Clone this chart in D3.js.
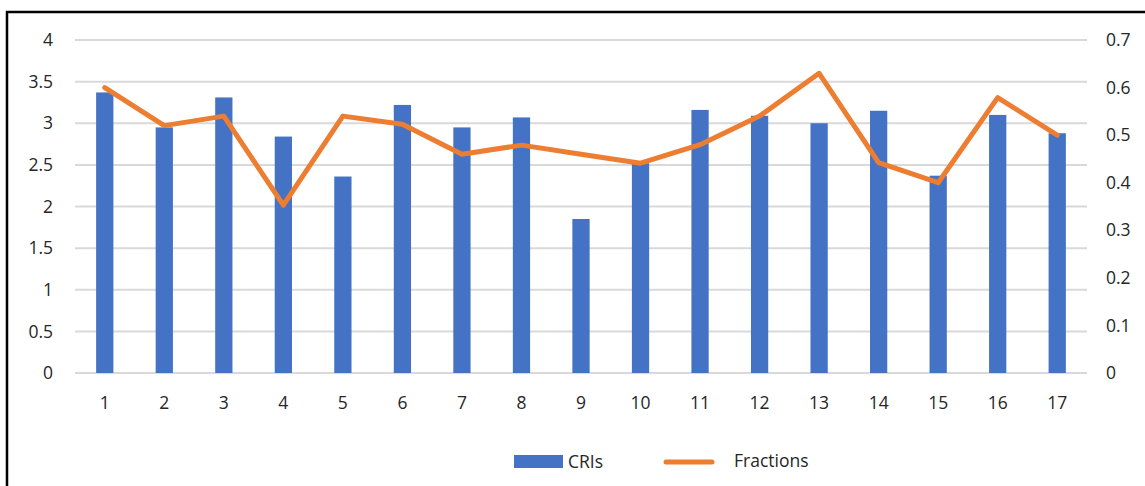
<!DOCTYPE html>
<html><head><meta charset="utf-8">
<script src="https://cdn.jsdelivr.net/npm/d3@7"></script>
<style>body{margin:0;background:#fff;} svg{display:block;} text{font-family:"Open Sans",sans-serif;fill:#262626;}</style>
</head><body><svg id="c" width="1145" height="486"></svg>
<script>
const categories = ["1","2","3","4","5","6","7","8","9","10","11","12","13","14","15","16","17"];
const cris = [3.37,2.95,3.31,2.84,2.36,3.22,2.95,3.07,1.85,2.52,3.16,3.09,3.00,3.15,2.37,3.10,2.88];
const fractions = [0.60,0.52,0.54,0.353,0.54,0.523,0.46,0.479,0.46,0.441,0.48,0.54,0.63,0.442,0.40,0.579,0.50];
const leftTicks = [0,0.5,1,1.5,2,2.5,3,3.5,4];
const rightTicks = [0,0.1,0.2,0.3,0.4,0.5,0.6,0.7];

const svg = d3.select("#c");
svg.append("rect").attr("x",7).attr("y",12).attr("width",1160).attr("height",500)
  .attr("fill","none").attr("stroke","#000").attr("stroke-width",2.5);

const L=75,R=1087,T=40,B=373;
const x = d3.scaleBand().domain(categories).range([L,R]).paddingInner(0.71).paddingOuter(0.355);
const y = d3.scaleLinear().domain([0,4]).range([B,T]);
const y2 = d3.scaleLinear().domain([0,0.7]).range([B,T]);

svg.append("g").selectAll("line").data(leftTicks).join("line")
  .attr("x1",L).attr("x2",R).attr("y1",d=>y(d)).attr("y2",d=>y(d))
  .attr("stroke","#d9d9d9").attr("stroke-width",2);

const fs = "17.5px";
svg.append("g").selectAll("text").data(leftTicks).join("text")
  .attr("x",53).attr("y",d=>y(d)).attr("dy","0.35em").attr("text-anchor","end")
  .style("font-size",fs).text(d=>d);
svg.append("g").selectAll("text").data(rightTicks).join("text")
  .attr("x",1106).attr("y",d=>y2(d)).attr("dy","0.35em").attr("text-anchor","start")
  .style("font-size",fs).text(d=>d);
svg.append("g").selectAll("text").data(categories).join("text")
  .attr("x",d=>x(d)+x.bandwidth()/2).attr("y",403).attr("dy","0.35em").attr("text-anchor","middle")
  .style("font-size",fs).text(d=>d);

svg.append("g").selectAll("rect").data(cris).join("rect")
  .attr("x",(d,i)=>x(categories[i])).attr("width",x.bandwidth())
  .attr("y",d=>y(d)).attr("height",d=>B-y(d)).attr("fill","#4472C4");

const line = d3.line().x((d,i)=>x(categories[i])+x.bandwidth()/2).y(d=>y2(d));
svg.append("path").datum(fractions).attr("d",line).attr("fill","none")
  .attr("stroke","#ED7D31").attr("stroke-width",5).attr("stroke-linejoin","round").attr("stroke-linecap","round");

// legend
svg.append("rect").attr("x",514).attr("y",455).attr("width",49).attr("height",13).attr("fill","#4472C4");
svg.append("text").attr("x",568).attr("y",462).attr("dy","0.35em").style("font-size",fs).text("CRIs");
svg.append("line").attr("x1",666).attr("x2",712).attr("y1",462).attr("y2",462)
  .attr("stroke","#ED7D31").attr("stroke-width",5).attr("stroke-linecap","round");
svg.append("text").attr("x",734).attr("y",461).attr("dy","0.35em").style("font-size",fs).text("Fractions");
</script></body></html>
